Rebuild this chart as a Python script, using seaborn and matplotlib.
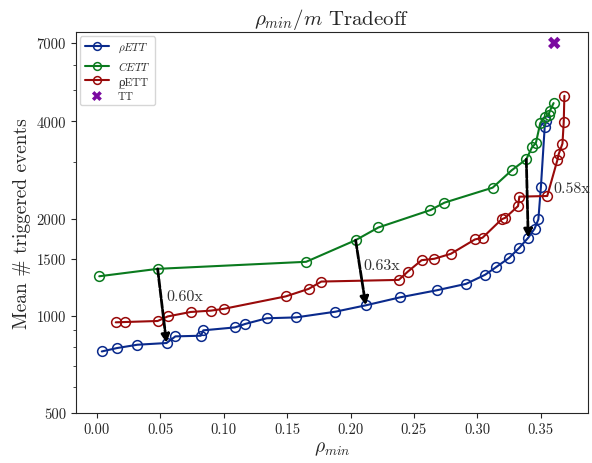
import matplotlib
matplotlib.use('Agg')
import matplotlib.pyplot as plt
import seaborn as sns
import numpy as np

# rho_min values and mean number of triggered events
rho_ett_x = [0.004, 0.016, 0.032, 0.055, 0.062, 0.082, 0.084, 0.109, 0.117, 0.134,
             0.157, 0.188, 0.212, 0.239, 0.268, 0.291, 0.306, 0.315, 0.325, 0.333,
             0.340, 0.345, 0.348, 0.350, 0.353, 0.354]
rho_ett_y = [775, 794, 813, 823, 863, 867, 901, 920, 943, 982,
             988, 1029, 1077, 1140, 1199, 1255, 1339, 1417, 1511, 1623,
             1744, 1860, 1988, 2504, 3846, 4006]

cett_x = [0.002, 0.048, 0.165, 0.204, 0.222, 0.263, 0.274, 0.312, 0.327, 0.3385,
          0.343, 0.346, 0.3495, 0.353, 0.356, 0.357, 0.360]
cett_y = [1325, 1397, 1469, 1714, 1877, 2125, 2240, 2493, 2822, 3053,
          3326, 3423, 3949, 4123, 4183, 4304, 4557]

ulrho_ett_x = [0.015, 0.022, 0.048, 0.056, 0.074, 0.090, 0.100, 0.149, 0.167, 0.177,
               0.238, 0.245, 0.256, 0.266, 0.279, 0.298, 0.304, 0.319, 0.322, 0.332,
               0.333, 0.355, 0.363, 0.364, 0.367, 0.368, 0.3685]
ulrho_ett_y = [954, 956, 963, 995, 1027, 1037, 1050, 1148, 1211, 1276,
               1291, 1368, 1486, 1501, 1555, 1723, 1744, 1988, 2012, 2186,
               2338, 2349, 3037, 3164, 3415, 3987, 4800]

tt_x = [0.3605]
tt_y = [7000]

# arrows: from CETT point down to rhoETT point, with ratio label
arrow_from = [(0.048, 1397), (0.204, 1714), (0.3385, 3053)]
arrow_to = [(0.055, 823), (0.212, 1077), (0.340, 1744)]
ratio_labels = ['0.60x', '0.63x', '0.58x']
label_pos = [(0.055, 1146), (0.2105, 1430), (0.3598, 2481)]

sns.set_style('ticks')
plt.rcParams['font.family'] = ['cmr10', 'DejaVu Serif']
plt.rcParams['mathtext.fontset'] = 'cm'
plt.rcParams['axes.formatter.use_mathtext'] = True

fig, ax = plt.subplots(figsize=(5.92, 4.64), dpi=100)
fig.subplots_adjust(left=0.128, right=0.993, top=0.929, bottom=0.108)

series = [
    (rho_ett_x, rho_ett_y, '#0a2a8c', r'$\rho ETT$'),
    (cett_x, cett_y, '#0a7a1e', r'$CETT$'),
    (ulrho_ett_x, ulrho_ett_y, '#990a0a', '\u03c1\u0332ETT'),
]
for xs, ys, col, lab in series:
    sns.lineplot(x=xs, y=ys, ax=ax, color=col, marker='o', markersize=7,
                 markerfacecolor='none', markeredgecolor=col, markeredgewidth=1.1,
                 linewidth=1.5, sort=False, estimator=None, label=lab)

sns.scatterplot(x=tt_x, y=tt_y, ax=ax, color='#7a0aa0', marker='X', s=80,
                edgecolor='none', label='TT')

for (x0, y0), (x1, y1), txt, (tx, ty) in zip(arrow_from, arrow_to, ratio_labels, label_pos):
    ax.annotate('', xy=(x1, y1), xytext=(x0, y0),
                arrowprops=dict(arrowstyle='-|>', color='black', lw=2,
                                linestyle=(0, (3, 0.7)), mutation_scale=12,
                                shrinkA=0, shrinkB=0))
    ax.text(tx, ty, txt, fontsize=11.5, va='center', ha='left', color='#333333')

ax.set_yscale('log')
ax.set_ylim(500, 7570)
ax.set_xlim(-0.0165, 0.387)
ax.set_yticks([500, 1000, 1500, 2000, 4000, 7000])
ax.set_yticklabels(['500', '1000', '1500', '2000', '4000', '7000'])
ax.set_xticks([0.0, 0.05, 0.10, 0.15, 0.20, 0.25, 0.30, 0.35])
ax.set_xticklabels(['0.00', '0.05', '0.10', '0.15', '0.20', '0.25', '0.30', '0.35'])
ax.tick_params(labelsize=10.5)

ax.set_xlabel(r'$\rho_{min}$', fontsize=14, labelpad=2)
ax.set_ylabel('Mean # triggered events', fontsize=14)
ax.set_title(r'$\rho_{min}/m$ Tradeoff', fontsize=15)

ax.legend(loc='upper left', fontsize=8, handlelength=2.2, borderaxespad=0.4,
          labelspacing=0.4, markerscale=0.8)

plt.savefig('out.png', dpi=100)
